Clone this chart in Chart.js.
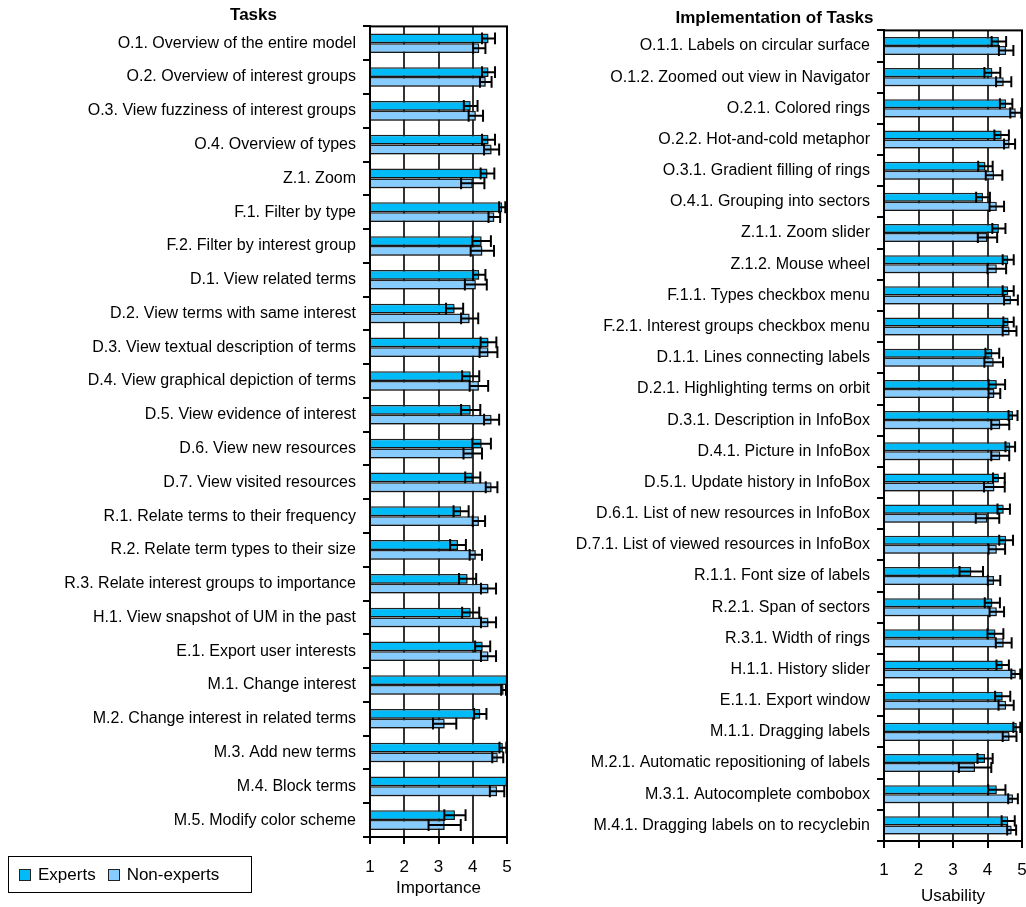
<!DOCTYPE html>
<html><head><meta charset="utf-8">
<script src="https://cdn.jsdelivr.net/npm/chart.js@4/dist/chart.umd.min.js"></script>
<style>
html,body{margin:0;padding:0;background:#fff;}
body{width:1026px;height:907px;position:relative;overflow:hidden;font-family:"Liberation Sans",Arial,sans-serif;}
canvas{position:absolute;top:0;}
#legend{position:absolute;left:8px;top:856px;width:244px;height:37px;border:1px solid #000;box-sizing:border-box;font-size:17px;display:flex;align-items:center;padding-left:10px;}
#legend span.sw{display:inline-block;width:12px;height:12px;border:1px solid #222;margin-right:7px;box-sizing:border-box;}
#legend .it{display:flex;align-items:center;margin-right:12px;}
</style></head>
<body>
<canvas id="c1" width="515" height="907" style="left:0"></canvas>
<canvas id="c2" width="499" height="907" style="left:527px"></canvas>
<div id="legend"><div class="it"><span class="sw" style="background:#00BBF8"></span>Experts</div><div class="it"><span class="sw" style="background:#86CCFF"></span>Non-experts</div></div>
<script>
const taskLabels = [
"O.1. Overview of the entire model","O.2. Overview of interest groups","O.3. View fuzziness of interest groups",
"O.4. Overview of types","Z.1. Zoom","F.1. Filter by type","F.2. Filter by interest group","D.1. View related terms",
"D.2. View terms with same interest","D.3. View textual description of terms","D.4. View graphical depiction of terms",
"D.5. View evidence of interest","D.6. View new resources","D.7. View visited resources","R.1. Relate terms to their frequency",
"R.2. Relate term types to their size","R.3. Relate interest groups to importance","H.1. View snapshot of UM in the past",
"E.1. Export user interests","M.1. Change interest","M.2. Change interest in related terms","M.3. Add new terms",
"M.4. Block terms","M.5. Modify color scheme"];
const impExperts    = [4.46,4.46,3.94,4.46,4.43,4.86,4.26,4.19,3.47,4.46,3.94,3.94,4.26,4.00,3.66,3.57,3.85,3.94,4.29,5.00,4.22,4.88,5.00,3.48];
const impExpertsErr = [0.19,0.19,0.20,0.19,0.20,0.09,0.27,0.18,0.25,0.23,0.25,0.28,0.27,0.22,0.22,0.23,0.25,0.25,0.22,0.00,0.18,0.10,0.00,0.31];
const impNon        = [4.19,4.38,4.09,4.55,4.00,4.63,4.28,4.09,3.91,4.46,4.18,4.55,4.00,4.55,4.18,4.09,4.46,4.46,4.46,4.90,3.18,4.73,4.71,3.18];
const impNonErr     = [0.18,0.17,0.21,0.22,0.34,0.17,0.34,0.32,0.25,0.26,0.27,0.22,0.27,0.17,0.18,0.18,0.22,0.22,0.22,0.07,0.34,0.16,0.21,0.47];

const implLabels = [
"O.1.1. Labels on circular surface","O.1.2. Zoomed out view in Navigator","O.2.1. Colored rings","O.2.2. Hot-and-cold metaphor",
"O.3.1. Gradient filling of rings","O.4.1. Grouping into sectors","Z.1.1. Zoom slider","Z.1.2. Mouse wheel",
"F.1.1. Types checkbox menu","F.2.1. Interest groups checkbox menu","D.1.1. Lines connecting labels","D.2.1. Highlighting terms on orbit",
"D.3.1. Description in InfoBox","D.4.1. Picture in InfoBox","D.5.1. Update history in InfoBox","D.6.1. List of new resources in InfoBox",
"D.7.1. List of viewed resources in InfoBox","R.1.1. Font size of labels","R.2.1. Span of sectors","R.3.1. Width of rings",
"H.1.1. History slider","E.1.1. Export window","M.1.1. Dragging labels","M.2.1. Automatic repositioning of labels",
"M.3.1. Autocomplete combobox","M.4.1. Dragging labels on to recyclebin"];
const useExperts    = [4.33,4.14,4.54,4.41,3.94,3.87,4.33,4.60,4.60,4.61,4.14,4.27,4.74,4.66,4.33,4.47,4.54,3.53,4.14,4.23,4.44,4.44,4.85,3.93,4.27,4.60];
const useExpertsErr = [0.21,0.23,0.18,0.21,0.21,0.20,0.19,0.16,0.16,0.15,0.20,0.24,0.13,0.14,0.17,0.18,0.20,0.34,0.22,0.23,0.18,0.22,0.10,0.22,0.25,0.19];
const useNon        = [4.54,4.47,4.82,4.64,4.19,4.27,4.00,4.27,4.68,4.64,4.18,4.20,4.37,4.37,4.20,4.00,4.27,4.19,4.27,4.47,4.82,4.54,4.64,3.64,4.74,4.70];
const useNonErr     = [0.21,0.22,0.16,0.16,0.24,0.21,0.28,0.27,0.20,0.20,0.27,0.17,0.26,0.26,0.30,0.34,0.24,0.18,0.21,0.23,0.13,0.22,0.20,0.47,0.14,0.13];
const xTicks = [1,2,3,4,5];

Chart.defaults.font.family = '"Liberation Sans", Arial, sans-serif';
Chart.defaults.color = '#000';

const expColor = '#00BBF8', nonColor = '#86CCFF';

const shadowPlugin = {
  id:'shadow',
  beforeDatasetsDraw(chart){const c=chart.ctx;c.save();c.shadowColor='rgba(0,0,0,0.35)';c.shadowOffsetX=2;c.shadowOffsetY=2;c.shadowBlur=1;},
  afterDatasetsDraw(chart){chart.ctx.restore();}
};
const errPlugin = {
  id:'errbars',
  afterDatasetsDraw(chart){
    const c=chart.ctx, xs=chart.scales.x;
    c.save(); c.strokeStyle='#000'; c.lineWidth=2;
    chart.data.datasets.forEach((ds,d)=>{
      const meta=chart.getDatasetMeta(d);
      meta.data.forEach((el,i)=>{
        const v=ds.data[i], e=ds.errors[i]; if(!e) return;
        const x0=xs.getPixelForValue(v-e), x1=xs.getPixelForValue(v+e), y=el.y, h=el.height*0.5+1;
        c.beginPath();
        c.moveTo(x0,y);c.lineTo(x1,y);
        c.moveTo(x0,y-h);c.lineTo(x0,y+h);
        c.moveTo(x1,y-h);c.lineTo(x1,y+h);
        c.stroke();
      });
    });
    const a=chart.chartArea; c.lineWidth=2; c.strokeRect(a.left,a.top,a.right-a.left,a.bottom-a.top);
    c.restore();
  }
};

function makeChart(id, labels, e, ee, n, ne, title, xTitle, yWidth, padRight, xHeight, titlePad, tickPad, xTitlePad){
  return new Chart(document.getElementById(id), {
    type:'bar',
    data:{labels:labels, datasets:[
      {label:'Experts', data:e, errors:ee, backgroundColor:expColor, borderColor:'#222', borderWidth:1.5, borderSkipped:false},
      {label:'Non-experts', data:n, errors:ne, backgroundColor:nonColor, borderColor:'#222', borderWidth:1.5, borderSkipped:false}
    ]},
    options:{
      indexAxis:'y', responsive:false, animation:false, devicePixelRatio:1,
      datasets:{bar:{barPercentage:1.0, categoryPercentage:0.58}},
      layout:{padding:{left:0,right:padRight,top:0,bottom:0}},
      plugins:{
        legend:{display:false}, tooltip:{enabled:false},
        title:{display:true, text:title, font:{size:17, weight:'bold'}, color:'#000', padding:titlePad}
      },
      scales:{
        x:{min:1,max:5,
           afterBuildTicks(s){s.ticks = xTicks.map(v=>({value:v}));},
           ticks:{font:{size:17}, padding:tickPad, color:'#000'},
           grid:{color:'#333', lineWidth:2, tickLength:7, tickColor:'#000', tickWidth:2},
           border:{color:'#000', width:2},
           title:{display:true, text:xTitle, font:{size:17}, color:'#000', padding:xTitlePad},
           afterFit(s){s.height=xHeight; s.paddingLeft=0; s.paddingRight=0;}
        },
        y:{
           ticks:{font:{size:16}, padding:7, color:'#000', autoSkip:false},
           grid:{offset:true, drawOnChartArea:false, tickLength:7, color:'#000', lineWidth:2},
           border:{color:'#000', width:2},
           afterFit(s){s.width=yWidth;}
        }
      }
    },
    plugins:[shadowPlugin, errPlugin]
  });
}

makeChart('c1', taskLabels, impExperts, impExpertsErr, impNon, impNonErr, 'Tasks', 'Importance', 370, 8, 70, {top:5,bottom:1}, 13, {top:0,bottom:8});
makeChart('c2', implLabels, useExperts, useExpertsErr, useNon, useNonErr, 'Implementation of Tasks', 'Usability', 357, 4, 66, {top:8,bottom:2}, 12, {top:0,bottom:0});
</script>
</body></html>
